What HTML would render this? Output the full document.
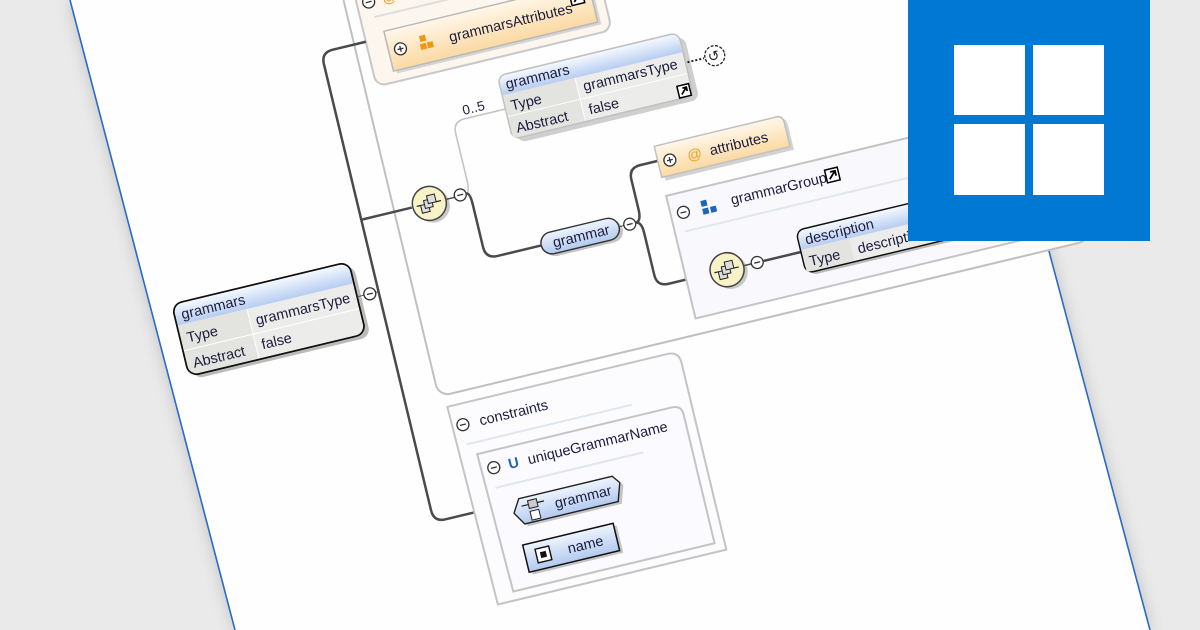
<!DOCTYPE html>
<html><head><meta charset="utf-8"><style>
html,body{margin:0;padding:0;width:1200px;height:630px;overflow:hidden;background:#eaeaea}
svg{display:block;overflow:hidden}
text{font-family:"Liberation Sans",Arial,sans-serif;fill:#1c1c3c;font-size:14.5px}
</style></head><body>
<svg width="1200" height="630" viewBox="0 0 1200 630" xmlns="http://www.w3.org/2000/svg">
<defs>
<linearGradient id="hb" x1="0" y1="0" x2="0" y2="1"><stop offset="0" stop-color="#f4f8fe"/><stop offset="1" stop-color="#b7cdf1"/></linearGradient>
<linearGradient id="og" x1="0" y1="0" x2="0" y2="1"><stop offset="0" stop-color="#fff7ea"/><stop offset="1" stop-color="#fbd9a2"/></linearGradient>
<linearGradient id="pb" x1="0" y1="0" x2="0" y2="1"><stop offset="0" stop-color="#eef4fd"/><stop offset="1" stop-color="#b2caef"/></linearGradient>
<filter id="sh" x="-10%" y="-10%" width="120%" height="120%"><feGaussianBlur stdDeviation="8"/></filter>
<clipPath id="cp"><rect width="1200" height="630"/></clipPath>
</defs>
<g clip-path="url(#cp)">
<rect width="1200" height="630" fill="#eaeaea"/>
<polygon points="70,0 982,0 1150,630 235,630" fill="#bdbdbd" filter="url(#sh)"/>
<polygon points="70,0 982,0 1150,630 235,630" fill="#fefefe"/>
<line x1="70" y1="0" x2="235" y2="630" stroke="#2a6bc6" stroke-width="1.6"/>
<line x1="982" y1="0" x2="1150" y2="630" stroke="#2a6bc6" stroke-width="1.6"/>

<g transform="rotate(-13.5)">
<rect x="334" y="-300" width="670" height="788" rx="12" fill="#fefefe" stroke="#c0c0c0" stroke-width="2"/>
<rect x="346" y="-100" width="242" height="272" rx="10" fill="#fdf6ee" stroke="#c8c8c8" stroke-width="2"/>
<circle cx="358" cy="88" r="6" fill="#fff" stroke="#333" stroke-width="1.3"/><line x1="355" y1="88" x2="361" y2="88" stroke="#333" stroke-width="1.3"/>
<text x="372" y="93" style="fill:#f29a1a">@</text>
<line x1="360" y1="104" x2="575" y2="104" stroke="#ddd" stroke-width="2"/>
<rect x="369" y="123" width="210" height="41" fill="#d4d4d4"/>
<rect x="366" y="120" width="210" height="41" fill="url(#og)" stroke="#b8b8b8" stroke-width="1.5"/>
<circle cx="378" cy="141" r="6" fill="#fff" stroke="#333" stroke-width="1.3"/><path d="M375,141h6M378,138v6" stroke="#333" stroke-width="1.3"/>
<rect x="399" y="133" width="6" height="6" fill="#f0960f"/><rect x="405" y="141" width="6" height="6" fill="#f0960f"/><rect x="398" y="141" width="6" height="6" fill="#f0960f"/>
<text x="428" y="146">grammarsAttributes</text>
<rect x="555" y="126" width="13" height="13" fill="#fff" stroke="#000" stroke-width="1.5"/><path d="M558,136l7-7M560,129h5v5" stroke="#000" stroke-width="1.8" fill="none"/>

<path d="M346,126 H312 Q300,126 300,138 V597 Q300,609 312,609 H342" fill="none" stroke="#4a4a4a" stroke-width="2.5"/>
<path d="M300,298 H352" stroke="#4a4a4a" stroke-width="2.5"/>

<rect x="100" y="340" width="182" height="74" rx="10" fill="#bbb"/>
<rect x="96" y="336" width="182" height="74" rx="10" fill="#ececea" stroke="#111" stroke-width="1.6"/>
<path d="M97,358 V346 Q97,337 106,337 H268 Q277,337 277,346 V358 Z" fill="url(#hb)"/>
<rect x="97" y="358" width="71" height="51" fill="#e3e3df"/>
<line x1="97" y1="384" x2="277" y2="384" stroke="#fff" stroke-width="1"/>
<line x1="168" y1="358" x2="168" y2="409" stroke="#fff" stroke-width="1"/>
<rect x="96" y="336" width="182" height="74" rx="10" fill="none" stroke="#111" stroke-width="1.6"/>
<text x="103" y="353">grammars</text>
<text x="103" y="377">Type</text><text x="174" y="376">grammarsType</text>
<text x="103" y="403">Abstract</text><text x="174" y="401">false</text>
<line x1="278" y1="372" x2="300" y2="372" stroke="#4a4a4a" stroke-width="1"/>
<circle cx="291" cy="372" r="6" fill="#fff" stroke="#333" stroke-width="1.3"/><line x1="288" y1="372" x2="294" y2="372" stroke="#333" stroke-width="1.3"/>

<circle cx="373" cy="301" r="17" fill="#c8c8c8"/>
<circle cx="370" cy="298" r="17" fill="#f8f3c6" stroke="#444" stroke-width="1.5"/>
<rect x="361" y="298" width="8" height="8" fill="#ddd" stroke="#222"/><rect x="365" y="294" width="8" height="8" fill="#ddd" stroke="#222"/><rect x="369" y="290" width="8" height="8" fill="#ddd" stroke="#222"/>
<path d="M357,298h4M377,298h5" stroke="#222" stroke-width="1.2"/>
<path d="M387,298 H396" stroke="#4a4a4a" stroke-width="1.5"/>
<circle cx="402" cy="297" r="6" fill="#fff" stroke="#333" stroke-width="1.3"/><line x1="399" y1="297" x2="405" y2="297" stroke="#333" stroke-width="1.3"/>
<path d="M408,297 Q412,297 412,285 V236 Q412,224 424,224 H466" fill="none" stroke="#c4c4c4" stroke-width="1.6"/>
<path d="M408,297 Q412,297 412,309 V353 Q412,365 424,365 H469" fill="none" stroke="#4a4a4a" stroke-width="2.5"/>
<text x="424" y="220" style="font-size:13.5px">0..5</text>

<rect x="471" y="195" width="186" height="65" rx="8" fill="#cfcfcf"/>
<rect x="466" y="190" width="186" height="65" rx="8" fill="#ececea" stroke="#c0c0c0" stroke-width="1.5"/>
<path d="M467,210 V198 Q467,191 474,191 H644 Q651,191 651,198 V210 Z" fill="url(#hb)"/>
<rect x="467" y="210" width="74" height="44" fill="#e3e3df"/>
<line x1="467" y1="232" x2="651" y2="232" stroke="#fff"/><line x1="541" y1="210" x2="541" y2="254" stroke="#fff"/>
<text x="472" y="205">grammars</text>
<text x="472" y="227">Type</text><text x="547" y="225">grammarsType</text>
<text x="472" y="250">Abstract</text><text x="547" y="249">false</text>
<rect x="638" y="242" width="12" height="12" fill="#fff" stroke="#000" stroke-width="1.5"/><path d="M641,251l6-6M643,245h4v4" stroke="#000" stroke-width="1.7" fill="none"/>
<line x1="654" y1="221" x2="671" y2="221" stroke="#222" stroke-width="2" stroke-dasharray="2,2"/>
<circle cx="682" cy="221" r="10" fill="#fff" stroke="#222" stroke-width="1.3" stroke-dasharray="3,1.5"/>
<text x="675" y="226" style="font-size:14px;fill:#222">↺</text>

<rect x="472" y="357" width="80" height="22" rx="11" fill="#c4c4c4"/>
<rect x="469" y="354" width="80" height="22" rx="11" fill="url(#pb)" stroke="#333" stroke-width="1.4"/>
<text x="481" y="370">grammar</text>
<line x1="549" y1="365" x2="554" y2="365" stroke="#4a4a4a"/>
<circle cx="560" cy="365" r="6" fill="#fff" stroke="#333" stroke-width="1.3"/><line x1="557" y1="365" x2="563" y2="365" stroke="#333" stroke-width="1.3"/>
<path d="M566,365 Q572,365 572,353 V322 Q572,310 584,310 H602" fill="none" stroke="#4a4a4a" stroke-width="2.5"/>
<path d="M566,365 Q572,365 572,377 V420 Q572,432 584,432 H627" fill="none" stroke="#4a4a4a" stroke-width="2.5"/>

<path d="M605,298 H731 Q737,298 737,306 V331 H605 Z" fill="#d2d2d2"/>
<path d="M602,295 H728 Q734,295 734,303 V327 H602 Z" fill="url(#og)" stroke="#c0c0c0" stroke-width="1.5"/>
<circle cx="614" cy="312" r="6" fill="#fff" stroke="#333" stroke-width="1.3"/><path d="M611,312h6M614,309v6" stroke="#333" stroke-width="1.3"/>
<text x="632" y="317" style="fill:#f29a1a">@</text>
<text x="655" y="317">attributes</text>

<rect x="602" y="346" width="380" height="126" fill="#f8f8fd" stroke="#c4c4c4" stroke-width="2"/>
<circle cx="615" cy="366" r="6" fill="#fff" stroke="#333" stroke-width="1.3"/><line x1="612" y1="366" x2="618" y2="366" stroke="#333" stroke-width="1.3"/>
<rect x="634" y="359" width="6" height="6" fill="#1e64b8"/><rect x="634" y="367" width="6" height="6" fill="#1e64b8"/><rect x="642" y="367" width="6" height="6" fill="#1e64b8"/>
<text x="664" y="370">grammarGroup</text>
<rect x="762" y="358" width="13" height="13" fill="#fff" stroke="#000" stroke-width="1.5"/><path d="M765,368l7-7M767,361h5v5" stroke="#000" stroke-width="1.8" fill="none"/>
<line x1="612" y1="385" x2="870" y2="385" stroke="#e2e6ee" stroke-width="2"/>
<circle cx="647" cy="435" r="17" fill="#c8c8c8"/>
<circle cx="644" cy="432" r="17" fill="#f8f3c6" stroke="#444" stroke-width="1.5"/>
<rect x="635" y="432" width="8" height="8" fill="#ddd" stroke="#222"/><rect x="639" y="428" width="8" height="8" fill="#ddd" stroke="#222"/><rect x="643" y="424" width="8" height="8" fill="#ddd" stroke="#222"/>
<path d="M631,432h4M651,432h5" stroke="#222" stroke-width="1.2"/>
<line x1="661" y1="432" x2="669" y2="432" stroke="#4a4a4a" stroke-width="1.5"/>
<circle cx="675" cy="432" r="6" fill="#fff" stroke="#333" stroke-width="1.3"/><line x1="672" y1="432" x2="678" y2="432" stroke="#333" stroke-width="1.3"/>
<line x1="681" y1="432" x2="720" y2="432" stroke="#4a4a4a" stroke-width="2.5"/>
<rect x="723" y="413" width="210" height="44" rx="8" fill="#bbb"/>
<rect x="720" y="410" width="210" height="44" rx="8" fill="#ececea" stroke="#111" stroke-width="1.5"/>
<path d="M721,430 V418 Q721,411 728,411 H922 Q929,411 929,418 V430 Z" fill="url(#hb)"/>
<rect x="721" y="430" width="49" height="23" fill="#e3e3df"/>
<text x="727" y="426">description</text>
<text x="726" y="448">Type</text><text x="776" y="447">descriptionType</text>

<path d="M340,500 H566 Q578,500 578,512 V704 H343 Z" fill="#fcfcfe" stroke="#c4c4c4" stroke-width="2"/>
<circle cx="351" cy="521" r="6" fill="#fff" stroke="#333" stroke-width="1.3"/><line x1="348" y1="521" x2="354" y2="521" stroke="#333" stroke-width="1.3"/>
<text x="368" y="526">constraints</text>
<line x1="350" y1="541" x2="520" y2="541" stroke="#e0e6ee" stroke-width="2"/>
<path d="M358,553 H558 Q568,553 568,563 V695 H361 Z" fill="#fafaff" stroke="#c4c4c4" stroke-width="2"/>
<circle cx="371" cy="570" r="6" fill="#fff" stroke="#333" stroke-width="1.3"/><line x1="368" y1="570" x2="374" y2="570" stroke="#333" stroke-width="1.3"/>
<text x="386" y="575" style="fill:#1e64b8;font-weight:bold">U</text>
<text x="406" y="575">uniqueGrammarName</text>
<line x1="368" y1="590" x2="520" y2="590" stroke="#e0e6ee" stroke-width="2"/>
<polygon points="383,622 391,609 487,609 493,617 487,635 391,635" fill="#c4c4c4"/>
<polygon points="380,619 388,606 484,606 490,614 484,632 388,632" fill="url(#pb)" stroke="#222" stroke-width="1.4"/>
<rect x="396" y="610" width="9" height="8" fill="#ccc" stroke="#222"/><path d="M389,614h7M405,614h7" stroke="#222" stroke-width="1.2"/>
<rect x="396" y="621" width="9" height="9" fill="#fff" stroke="#222"/>
<text x="422" y="624">grammar</text>
<rect x="384" y="655" width="93" height="28" fill="#c4c4c4"/>
<rect x="381" y="652" width="93" height="28" fill="url(#pb)" stroke="#111" stroke-width="1.5"/>
<rect x="392" y="659" width="14" height="14" fill="#fff" stroke="#111" stroke-width="1.4"/><rect x="396" y="663" width="6" height="6" fill="#111"/>
<text x="424" y="671">name</text>
</g>

<rect x="908" y="0" width="242" height="241" fill="#0078d4"/>
<rect x="954" y="45" width="71" height="70" fill="#fff"/>
<rect x="1033" y="45" width="71" height="70" fill="#fff"/>
<rect x="954" y="124" width="71" height="71" fill="#fff"/>
<rect x="1033" y="124" width="71" height="71" fill="#fff"/>
</g>
</svg>
</body></html>
